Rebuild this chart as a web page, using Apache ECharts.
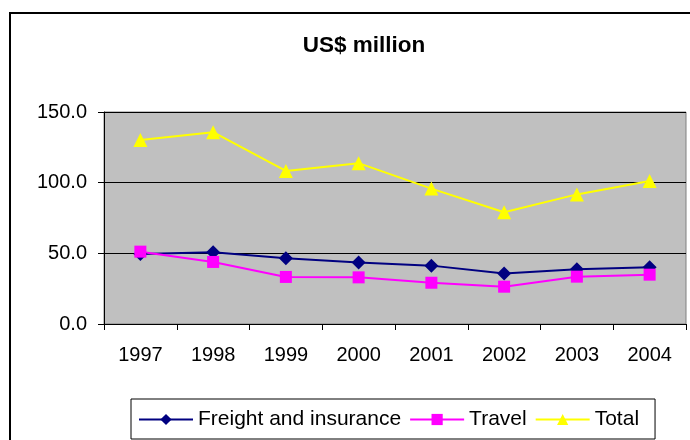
<!DOCTYPE html>
<html><head><meta charset="utf-8">
<script src="https://cdn.jsdelivr.net/npm/echarts@6/dist/echarts.min.js"></script>
<style>html,body{margin:0;padding:0;background:#fff}#c{width:690px;height:440px}</style>
</head><body><div id="c"></div>
<script>
const years = ['1997','1998','1999','2000','2001','2002','2003','2004'];
const freight = [49.5, 50.7, 46.5, 43.6, 41.3, 35.8, 38.7, 40.1];
const travel = [51.2, 43.9, 33.3, 33.0, 29.2, 26.4, 33.5, 34.9];
const total = [130.2, 135.7, 108.3, 113.8, 95.8, 79.1, 91.7, 101.2];
const yTicks = [0, 50, 100, 150];

const chart = echarts.init(document.getElementById('c'), null, {renderer:'canvas'});
const font = 'Liberation Sans, Arial, sans-serif';
chart.setOption({
  animation: false,
  backgroundColor: '#fff',
  textStyle: {fontFamily: font},
  graphic: [{
    type: 'rect', shape: {x: 10, y: 13, width: 700, height: 440},
    style: {fill: 'none', stroke: '#000', lineWidth: 2}, z: -1
  }],
  title: {
    text: 'US$ million', left: 359, top: 29, textAlign: 'center',
    textStyle: {fontFamily: font, fontWeight: 'bold', fontSize: 22.5, color: '#000'}
  },
  legend: {
    left: 131, top: 399,
    padding: [10, 16, 9, 7],
    borderColor: '#000', borderWidth: 1,
    itemGap: 8, itemWidth: 54, itemHeight: 14,
    textStyle: {fontFamily: font, fontSize: 21, color: '#000'},
    data: ['Freight and insurance', 'Travel', 'Total']
  },
  grid: {left: 104, top: 112, width: 582, height: 212, containLabel: false,
    show: true, backgroundColor: '#c0c0c0', borderColor: '#808080', borderWidth: 1},
  xAxis: {
    type: 'category', data: years, boundaryGap: true,
    axisLine: {lineStyle: {color: '#000', width: 1}},
    axisTick: {show: true, length: 6, inside: false, alignWithLabel: false, lineStyle: {color: '#000'}},
    axisLabel: {fontFamily: font, fontSize: 20, color: '#000', margin: 21},
    splitLine: {show: false}
  },
  yAxis: {
    type: 'value', min: yTicks[0], max: yTicks[yTicks.length-1], interval: 50,
    axisLine: {show: true, lineStyle: {color: '#000'}},
    axisTick: {show: true, length: 6, lineStyle: {color: '#000'}},
    axisLabel: {fontFamily: font, fontSize: 20, color: '#000', margin: 17,
      formatter: v => v.toFixed(1)},
    splitLine: {show: true, lineStyle: {color: '#000', width: 1}}
  },
  series: [
    {name: 'Freight and insurance', type: 'line', data: freight,
     symbol: 'diamond', symbolSize: 14, color: '#000080',
     lineStyle: {width: 2, color: '#000080'}, itemStyle: {color: '#000080'}},
    {name: 'Travel', type: 'line', data: travel,
     symbol: 'rect', symbolSize: 12, color: '#ff00ff',
     lineStyle: {width: 2, color: '#ff00ff'}, itemStyle: {color: '#ff00ff'}},
    {name: 'Total', type: 'line', data: total,
     symbol: 'triangle', symbolSize: 14, color: '#ffff00',
     lineStyle: {width: 2, color: '#ffff00'}, itemStyle: {color: '#ffff00'}}
  ]
});
</script></body></html>
